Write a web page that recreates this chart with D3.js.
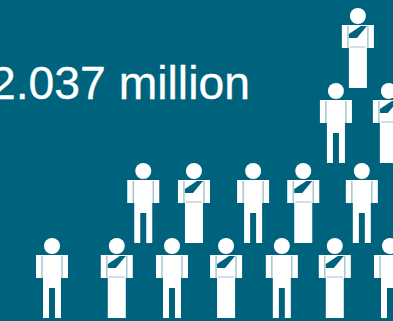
<!DOCTYPE html>
<html>
<head>
<meta charset="utf-8">
<style>
  html, body { margin: 0; padding: 0; background: #00637d; }
  svg { display: block; }
  text { font-family: "Liberation Sans", Arial, sans-serif; }
</style>
<script src="https://cdn.jsdelivr.net/npm/d3@7"></script>
</head>
<body>
<script>
// Headline figure and the pyramid of people, bottom tier first.
const headline = "2.037 million";
const tiers = [0, 0, 0, 0, 0, 0, 0, 1, 1, 1, 1, 1, 2, 2, 3];
const figures = ["man", "woman", "man", "woman", "man", "woman", "man",
                 "man", "woman", "man", "woman", "man",
                 "man", "woman",
                 "woman"];
const seats = [0, 1.15, 2.13, 3.09, 4.08, 5.02, 6,
               1.62, 2.52, 3.57, 4.46, 5.5,
               5.04, 5.98,
               5.43];

const width = 393, height = 321;
const teal = "#00637d";

const svg = d3.select("body").append("svg")
  .attr("width", width).attr("height", height);

svg.append("rect").attr("width", width).attr("height", height).attr("fill", teal);

const x = d3.scaleLinear().domain([0, 6]).range([52, 390]);
const y = d3.scaleOrdinal().domain([0, 1, 2, 3]).range([246, 171, 91, 16]);

// Icons are drawn around the centre of the head.
const manPath = "M-16,9H16V32H9V72H3V42H-3V72H-9V32H-16Z";
const womanPath = "M-16,9H16V32H9V72H-9V32H-16Z";
const sashPath = "M3,10H9L-1,22H-9V18Z";

const people = svg.append("g").selectAll("g")
  .data(d3.range(figures.length))
  .join("g")
  .attr("transform", i => `translate(${x(seats[i])},${y(tiers[i])})`);

people.append("circle").attr("r", 8).attr("fill", "#fff");
people.append("path")
  .attr("d", i => figures[i] === "man" ? manPath : womanPath)
  .attr("fill", "#fff");

// Thin seams between arms and body.
people.selectAll("line")
  .data(() => [-10, 10])
  .join("line")
  .attr("x1", d => d).attr("x2", d => d)
  .attr("y1", 10).attr("y2", 32)
  .attr("stroke", "#9fc3cc").attr("stroke-width", 1.4);

const women = people.filter(i => figures[i] === "woman");
women.append("path").attr("d", sashPath).attr("fill", teal);
women.append("line")
  .attr("x1", -8).attr("x2", 8).attr("y1", 31).attr("y2", 31)
  .attr("stroke", "#9fc3cc").attr("stroke-width", 1);

svg.append("text")
  .attr("x", -10).attr("y", 99)
  .attr("font-size", 46.3)
  .attr("fill", "#fff")
  .attr("stroke", "#fff")
  .attr("stroke-width", 0.35)
  .text(headline);
</script>
</body>
</html>
